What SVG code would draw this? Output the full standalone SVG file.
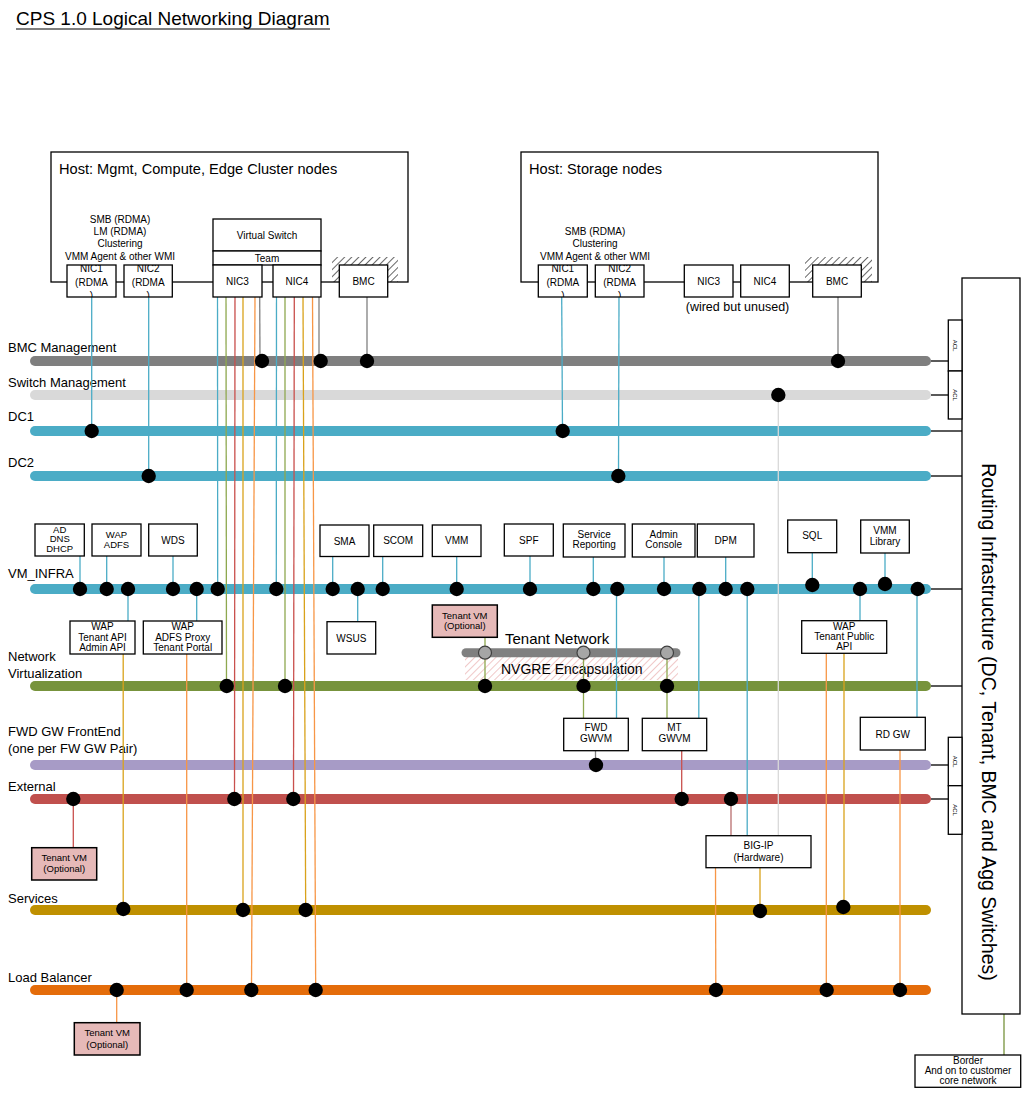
<svg xmlns="http://www.w3.org/2000/svg" width="1024" height="1093" viewBox="0 0 1024 1093">
<style>
text{font-family:"Liberation Sans",Arial,sans-serif;fill:#000}
.lbl{font-size:13px}
.bt{font-size:10px;text-anchor:middle}
.sm{font-size:9.5px;text-anchor:middle}
.frame{fill:none;stroke:#000;stroke-width:1.3}
.box{fill:#fff;stroke:#000;stroke-width:1.3}
.pink{fill:#E6B9B8;stroke:#000;stroke-width:1.5}
.bus{fill:none;stroke-width:10;stroke-linecap:round}
.c{fill:none;stroke-width:1.3}
.k{stroke:#000}
.b{stroke:#4BACC6}
.g{stroke:#8EA84F}
.r{stroke:#C9504D}
.y{stroke:#D9A21B}
.o{stroke:#F79646}
.gr{stroke:#808080}
.lg{stroke:#D9D9D9}
.dot{fill:#000}
.tc{fill:#A6A6A6;stroke:#404040;stroke-width:1.2}
</style>
<defs>
<pattern id="hk" patternUnits="userSpaceOnUse" width="5" height="5" patternTransform="rotate(45)">
<line x1="0" y1="0" x2="0" y2="5" stroke="#000" stroke-width="1.2"/>
</pattern>
<pattern id="hr" patternUnits="userSpaceOnUse" width="5" height="5" patternTransform="rotate(45)">
<line x1="0" y1="0" x2="0" y2="5" stroke="#E39A9A" stroke-width="1.1"/>
</pattern>
</defs>
<rect width="1024" height="1093" fill="#fff"/>

<g id="title">
<text x="16" y="25" style="font-size:19px">CPS 1.0 Logical Networking Diagram</text>
<line x1="16" y1="29" x2="330" y2="29" stroke="#000" stroke-width="1.2"/>
</g>

<!-- networks (buses) -->
<g id="net-bmc"><text class="lbl" x="8" y="352">BMC Management</text><line class="bus" x1="35" y1="361" x2="926" y2="361" stroke="#7F7F7F"/></g>
<g id="net-switch"><text class="lbl" x="8" y="387">Switch Management</text><line class="bus" x1="35" y1="395" x2="926" y2="395" stroke="#D9D9D9"/></g>
<g id="net-dc1"><text class="lbl" x="8" y="421">DC1</text><line class="bus" x1="35" y1="431" x2="926" y2="431" stroke="#4BACC6"/></g>
<g id="net-dc2"><text class="lbl" x="8" y="467">DC2</text><line class="bus" x1="35" y1="476" x2="926" y2="476" stroke="#4BACC6"/></g>
<g id="net-vminfra"><text class="lbl" x="8" y="578">VM_INFRA</text><line class="bus" x1="35" y1="589" x2="926" y2="589" stroke="#4BACC6"/></g>
<g id="net-nvgre">
<rect x="465" y="657" width="213" height="23" fill="url(#hr)"/>
<text x="501" y="674" style="font-size:14px">NVGRE Encapsulation</text>
</g>
<g id="net-tenant"><text x="505" y="644" style="font-size:15px">Tenant Network</text><line x1="466" y1="652.7" x2="676" y2="652.7" stroke="#808080" stroke-width="9" stroke-linecap="round"/></g>
<g id="net-nv"><text class="lbl" x="8" y="661">Network</text><text class="lbl" x="8" y="678">Virtualization</text><line class="bus" x1="35" y1="686" x2="926" y2="686" stroke="#77933C"/></g>
<g id="net-fwd"><text class="lbl" x="8" y="736">FWD GW FrontEnd</text><text class="lbl" x="8" y="753">(one per FW GW Pair)</text><line class="bus" x1="35" y1="765" x2="926" y2="765" stroke="#A79BC6"/></g>
<g id="net-external"><text class="lbl" x="8" y="791">External</text><line class="bus" x1="35" y1="799" x2="926" y2="799" stroke="#C0504D"/></g>
<g id="net-services"><text class="lbl" x="8" y="903">Services</text><line class="bus" x1="35" y1="910" x2="926" y2="910" stroke="#BF9000"/></g>
<g id="net-lb"><text class="lbl" x="8" y="982">Load Balancer</text><line class="bus" x1="35" y1="990" x2="926" y2="990" stroke="#E46C0A"/></g>

<!-- connectors -->
<g id="connectors">
<line class="c k" x1="931" y1="361" x2="948" y2="361"/>
<line class="c k" x1="931" y1="395" x2="948" y2="395"/>
<line class="c k" x1="931" y1="431" x2="962" y2="431"/>
<line class="c k" x1="931" y1="476" x2="962" y2="476"/>
<line class="c k" x1="931" y1="589" x2="962" y2="589"/>
<line class="c k" x1="931" y1="686" x2="962" y2="686"/>
<line class="c k" x1="931" y1="765" x2="948" y2="765"/>
<line class="c k" x1="931" y1="799" x2="948" y2="799"/>
<line class="c" stroke="#77933C" x1="1004" y1="1014" x2="1004" y2="1055"/>
<!-- host 1 -->
<line class="c b" x1="91.7" y1="297" x2="91.7" y2="431"/>
<line class="c b" x1="148.7" y1="297" x2="148.7" y2="476"/>
<line class="c b" x1="217.5" y1="297" x2="217.7" y2="589"/>
<line class="c g" x1="226" y1="297" x2="226.5" y2="686"/>
<line class="c r" x1="235" y1="297" x2="234.5" y2="799"/>
<line class="c y" x1="243" y1="297" x2="243" y2="910"/>
<line class="c o" x1="255" y1="297" x2="251.5" y2="990"/>
<line class="c gr" x1="259.7" y1="297" x2="260" y2="361"/>
<line class="c b" x1="276.5" y1="297" x2="276.3" y2="589"/>
<line class="c g" x1="285" y1="297" x2="285" y2="686"/>
<line class="c r" x1="294.3" y1="297" x2="293.5" y2="799"/>
<line class="c y" x1="303" y1="297" x2="305.7" y2="910"/>
<line class="c o" x1="312.5" y1="297" x2="315.7" y2="990"/>
<line class="c gr" x1="319" y1="297" x2="319" y2="361"/>
<line class="c gr" x1="367" y1="297" x2="367" y2="361"/>
<!-- host 2 -->
<line class="c b" x1="561.7" y1="297" x2="562.5" y2="431"/>
<line class="c b" x1="619" y1="297" x2="618.5" y2="476"/>
<line class="c gr" x1="838" y1="297" x2="838" y2="361"/>
<!-- VM_INFRA top boxes -->
<line class="c b" x1="80" y1="556" x2="80" y2="589"/>
<line class="c b" x1="106.7" y1="556" x2="106.7" y2="589"/>
<line class="c b" x1="173" y1="556" x2="173" y2="589"/>
<line class="c b" x1="332.7" y1="556.5" x2="332.7" y2="589"/>
<line class="c b" x1="382.7" y1="556.5" x2="382.7" y2="589"/>
<line class="c b" x1="456.7" y1="556.5" x2="456.7" y2="589"/>
<line class="c b" x1="530" y1="556" x2="530" y2="589"/>
<line class="c b" x1="593.3" y1="557" x2="593.3" y2="589"/>
<line class="c b" x1="664" y1="557" x2="664" y2="589"/>
<line class="c b" x1="725.7" y1="557" x2="725.7" y2="589"/>
<line class="c b" x1="812.3" y1="552.7" x2="812.3" y2="585"/>
<line class="c b" x1="885" y1="553" x2="885" y2="584"/>
<!-- VM_INFRA bottom boxes -->
<line class="c b" x1="128" y1="589" x2="128" y2="621"/>
<line class="c b" x1="196.7" y1="589" x2="196.7" y2="621"/>
<line class="c b" x1="357.7" y1="589" x2="357.7" y2="621.7"/>
<line class="c b" x1="860" y1="589" x2="860" y2="620.7"/>
<line class="c b" x1="616.5" y1="589" x2="616.5" y2="718.3"/>
<line class="c b" x1="698.8" y1="589" x2="698.8" y2="718.3"/>
<line class="c b" x1="747.2" y1="589" x2="747.2" y2="835.7"/>
<line class="c b" x1="917" y1="589" x2="917" y2="717.3"/>
<line class="c lg" x1="778.3" y1="395" x2="778.3" y2="835.7"/>
<!-- NV / tenant -->
<line class="c g" x1="485" y1="637.3" x2="485" y2="686"/>
<line class="c g" x1="583.5" y1="652.7" x2="583.5" y2="718.3"/>
<line class="c g" x1="667" y1="652.7" x2="667" y2="718.3"/>
<!-- services / LB / external -->
<line class="c y" x1="123.2" y1="654" x2="123.2" y2="910"/>
<line class="c y" x1="844" y1="653.3" x2="844" y2="909"/>
<line class="c y" x1="760" y1="867.7" x2="760" y2="910"/>
<line class="c o" x1="186.7" y1="654" x2="186.7" y2="990"/>
<line class="c o" x1="826.3" y1="653.3" x2="826.3" y2="990"/>
<line class="c o" x1="900" y1="750" x2="900" y2="990"/>
<line class="c o" x1="715.5" y1="867.7" x2="715.8" y2="990"/>
<line class="c o" x1="116.7" y1="990" x2="116.7" y2="1022.7"/>
<line class="c r" x1="73.3" y1="799" x2="73.3" y2="847.7"/>
<line class="c r" x1="681.7" y1="750.7" x2="681.7" y2="799"/>
<line class="c" stroke="#B86E6E" x1="731" y1="799" x2="731" y2="835.7"/>
<line class="c gr" x1="595.5" y1="750.7" x2="595.5" y2="765"/>
</g>

<!-- junction dots -->
<g id="junctions">
<circle class="dot" cx="262" cy="361" r="7.2"/><circle class="dot" cx="320.7" cy="361" r="7.2"/><circle class="dot" cx="367" cy="361" r="7.2"/><circle class="dot" cx="838" cy="361" r="7.2"/>
<circle class="dot" cx="778.3" cy="395" r="7.2"/>
<circle class="dot" cx="91.7" cy="431" r="7.2"/><circle class="dot" cx="562.7" cy="431" r="7.2"/>
<circle class="dot" cx="148.7" cy="476" r="7.2"/><circle class="dot" cx="618.3" cy="476" r="7.2"/>
<circle class="dot" cx="80" cy="589" r="7.2"/><circle class="dot" cx="106.7" cy="589" r="7.2"/><circle class="dot" cx="128" cy="589" r="7.2"/><circle class="dot" cx="173" cy="589" r="7.2"/><circle class="dot" cx="196.7" cy="589" r="7.2"/><circle class="dot" cx="217.7" cy="589" r="7.2"/><circle class="dot" cx="276.3" cy="589" r="7.2"/><circle class="dot" cx="332.7" cy="589" r="7.2"/><circle class="dot" cx="357.7" cy="589" r="7.2"/><circle class="dot" cx="382.7" cy="589" r="7.2"/><circle class="dot" cx="456.7" cy="589" r="7.2"/><circle class="dot" cx="530" cy="589" r="7.2"/><circle class="dot" cx="593.3" cy="589" r="7.2"/><circle class="dot" cx="617.3" cy="589" r="7.2"/><circle class="dot" cx="664" cy="589" r="7.2"/><circle class="dot" cx="699.3" cy="589" r="7.2"/><circle class="dot" cx="725.7" cy="589" r="7.2"/><circle class="dot" cx="747.3" cy="589" r="7.2"/><circle class="dot" cx="812.3" cy="585" r="7.2"/><circle class="dot" cx="860" cy="589" r="7.2"/><circle class="dot" cx="885" cy="584" r="7.2"/><circle class="dot" cx="917.7" cy="589" r="7.2"/>
<circle class="dot" cx="226.7" cy="686" r="7.2"/><circle class="dot" cx="285" cy="686" r="7.2"/><circle class="dot" cx="485" cy="686" r="7.2"/><circle class="dot" cx="583.5" cy="686" r="7.2"/><circle class="dot" cx="667" cy="686" r="7.2"/>
<circle class="tc" cx="485" cy="652.7" r="6.5"/><circle class="tc" cx="583.5" cy="652.7" r="6.5"/><circle class="tc" cx="667" cy="652.7" r="6.5"/>
<circle class="dot" cx="596" cy="765" r="7.2"/>
<circle class="dot" cx="73.3" cy="799" r="7.2"/><circle class="dot" cx="234.3" cy="799" r="7.2"/><circle class="dot" cx="293.3" cy="799" r="7.2"/><circle class="dot" cx="681.7" cy="799" r="7.2"/><circle class="dot" cx="731" cy="799" r="7.2"/>
<circle class="dot" cx="123.3" cy="909" r="7.2"/><circle class="dot" cx="243" cy="910" r="7.2"/><circle class="dot" cx="305.7" cy="910" r="7.2"/><circle class="dot" cx="760" cy="911" r="7.2"/><circle class="dot" cx="843.3" cy="907" r="7.2"/>
<circle class="dot" cx="116.7" cy="990" r="7.2"/><circle class="dot" cx="186.7" cy="990" r="7.2"/><circle class="dot" cx="251.3" cy="990" r="7.2"/><circle class="dot" cx="315.7" cy="990" r="7.2"/><circle class="dot" cx="716" cy="990" r="7.2"/><circle class="dot" cx="826.7" cy="990" r="7.2"/><circle class="dot" cx="900" cy="990" r="7.2"/>
</g>

<!-- Host 1 -->
<g id="host-mgmt">
<rect class="frame" x="51" y="152" width="357" height="130"/>
<text x="59" y="174" style="font-size:14.6px">Host: Mgmt, Compute, Edge Cluster nodes</text>
<text class="bt" x="120" y="223">SMB (RDMA)</text>
<text class="bt" x="120" y="235">LM (RDMA)</text>
<text class="bt" x="120" y="247">Clustering</text>
<text class="bt" x="120" y="259.5">VMM Agent &amp; other WMI</text>
<rect x="332" y="257" width="66" height="25" fill="url(#hk)"/>
</g>
<g id="h1-nic1"><rect class="box" x="67" y="265" width="49" height="32"/><svg x="67" y="265" width="49" height="32"><text class="bt" x="24.5" y="7">NIC1</text><text class="bt" x="24.5" y="20.5">(RDMA</text><text class="bt" x="24.5" y="34">)</text></svg></g>
<g id="h1-nic2"><rect class="box" x="124" y="265" width="48.3" height="32"/><svg x="124" y="265" width="48.3" height="32"><text class="bt" x="24.2" y="7">NIC2</text><text class="bt" x="24.2" y="20.5">(RDMA</text><text class="bt" x="24.2" y="34">)</text></svg></g>
<g id="h1-vswitch"><rect class="box" x="213" y="219" width="108" height="32"/><text class="bt" x="267" y="239">Virtual Switch</text></g>
<g id="h1-team"><rect class="box" x="213" y="251" width="108" height="14"/><text class="bt" x="267" y="262">Team</text></g>
<g id="h1-nic3"><rect class="box" x="213" y="265" width="49" height="32"/><text class="bt" x="237.5" y="285">NIC3</text></g>
<g id="h1-nic4"><rect class="box" x="273" y="265" width="48" height="32"/><text class="bt" x="297" y="285">NIC4</text></g>
<g id="h1-bmc"><rect class="box" x="339.3" y="265" width="48.4" height="32"/><text class="bt" x="363.5" y="285">BMC</text></g>

<!-- Host 2 -->
<g id="host-storage">
<rect class="frame" x="521" y="152" width="357" height="130"/>
<text x="529" y="174" style="font-size:14.6px">Host: Storage nodes</text>
<text class="bt" x="595" y="235">SMB (RDMA)</text>
<text class="bt" x="595" y="247">Clustering</text>
<text class="bt" x="595" y="259.5">VMM Agent &amp; other WMI</text>
<rect x="805" y="257" width="67" height="25" fill="url(#hk)"/>
<text x="737.5" y="311" style="font-size:12.5px;text-anchor:middle">(wired but unused)</text>
</g>
<g id="h2-nic1"><rect class="box" x="538.3" y="265" width="49" height="32"/><svg x="538.3" y="265" width="49" height="32"><text class="bt" x="24.5" y="7">NIC1</text><text class="bt" x="24.5" y="20.5">(RDMA</text><text class="bt" x="24.5" y="34">)</text></svg></g>
<g id="h2-nic2"><rect class="box" x="595.3" y="265" width="48.7" height="32"/><svg x="595.3" y="265" width="48.7" height="32"><text class="bt" x="24.3" y="7">NIC2</text><text class="bt" x="24.3" y="20.5">(RDMA</text><text class="bt" x="24.3" y="34">)</text></svg></g>
<g id="h2-nic3"><rect class="box" x="684.3" y="265" width="48.7" height="32"/><text class="bt" x="708.7" y="285">NIC3</text></g>
<g id="h2-nic4"><rect class="box" x="740.7" y="265" width="48.6" height="32"/><text class="bt" x="765" y="285">NIC4</text></g>
<g id="h2-bmc"><rect class="box" x="812.7" y="265" width="48.6" height="32"/><text class="bt" x="837" y="285">BMC</text></g>

<!-- VM_INFRA services -->
<g id="ad"><rect class="box" x="35" y="524" width="49.3" height="32"/><text class="sm" x="59.7" y="532.5">AD</text><text class="sm" x="59.7" y="542">DNS</text><text class="sm" x="59.7" y="551.5">DHCP</text></g>
<g id="wap-adfs"><rect class="box" x="92" y="524" width="49" height="32"/><text class="sm" x="116.5" y="537.5">WAP</text><text class="sm" x="116.5" y="548">ADFS</text></g>
<g id="wds"><rect class="box" x="148.7" y="524" width="48.6" height="32"/><text class="bt" x="173" y="543.5">WDS</text></g>
<g id="sma"><rect class="box" x="320" y="525" width="49" height="31.5"/><text class="bt" x="344.5" y="545">SMA</text></g>
<g id="scom"><rect class="box" x="373.7" y="525" width="49" height="31.5"/><text class="bt" x="398.2" y="544">SCOM</text></g>
<g id="vmm"><rect class="box" x="432.3" y="525" width="48.7" height="31.5"/><text class="bt" x="456.7" y="544">VMM</text></g>
<g id="spf"><rect class="box" x="504.3" y="524" width="49" height="32"/><text class="bt" x="528.8" y="543.5">SPF</text></g>
<g id="svc-reporting"><rect class="box" x="563.3" y="524" width="61.7" height="33"/><text class="bt" x="594.2" y="537.5">Service</text><text class="bt" x="594.2" y="548">Reporting</text></g>
<g id="admin-console"><rect class="box" x="632.3" y="524" width="62.7" height="33"/><text class="bt" x="663.7" y="537.5">Admin</text><text class="bt" x="663.7" y="548">Console</text></g>
<g id="dpm"><rect class="box" x="697.3" y="524" width="56.7" height="33"/><text class="bt" x="725.7" y="544">DPM</text></g>
<g id="sql"><rect class="box" x="787.7" y="520" width="49" height="32.7"/><text class="bt" x="812.2" y="539">SQL</text></g>
<g id="vmm-library"><rect class="box" x="860.7" y="520" width="48.6" height="33"/><text class="bt" x="885" y="533.5">VMM</text><text class="bt" x="885" y="544.5">Library</text></g>
<g id="wap-tenant-api"><rect class="box" x="70" y="621" width="65" height="33"/><text class="bt" x="102.5" y="630">WAP</text><text class="bt" x="102.5" y="640.5">Tenant API</text><text class="bt" x="102.5" y="650.5">Admin API</text></g>
<g id="wap-adfs-proxy"><rect class="box" x="143.3" y="621" width="78.7" height="33"/><text class="bt" x="182.7" y="630">WAP</text><text class="bt" x="182.7" y="640.5">ADFS Proxy</text><text class="bt" x="182.7" y="650.5">Tenant Portal</text></g>
<g id="wsus"><rect class="box" x="327" y="621.7" width="48.7" height="32.3"/><text class="bt" x="351.3" y="641.5">WSUS</text></g>
<g id="tenant-vm-nv"><rect class="pink" x="432.3" y="605" width="65" height="32.3"/><text class="sm" x="464.8" y="618.5">Tenant VM</text><text class="sm" x="464.8" y="629">(Optional)</text></g>
<g id="wap-public-api"><rect class="box" x="801.7" y="620.7" width="85" height="32.6"/><text class="bt" x="844.2" y="629.5">WAP</text><text class="bt" x="844.2" y="639.5">Tenant Public</text><text class="bt" x="844.2" y="649.5">API</text></g>

<!-- gateways -->
<g id="fwd-gwvm"><rect class="box" x="563.7" y="718.3" width="64.6" height="32.4"/><text class="bt" x="596" y="731">FWD</text><text class="bt" x="596" y="742">GWVM</text></g>
<g id="mt-gwvm"><rect class="box" x="642.3" y="718.3" width="64.4" height="32.4"/><text class="bt" x="674.5" y="731">MT</text><text class="bt" x="674.5" y="742">GWVM</text></g>
<g id="rd-gw"><rect class="box" x="860.3" y="717.3" width="65" height="32.7"/><text class="bt" x="892.8" y="737.5">RD GW</text></g>
<g id="big-ip"><rect class="box" x="706" y="835.7" width="105" height="32"/><text class="bt" x="758.5" y="849">BIG-IP</text><text class="bt" x="758.5" y="861">(Hardware)</text></g>
<g id="tenant-vm-ext"><rect class="pink" x="31.7" y="847.7" width="65" height="32.3"/><text class="sm" x="64.2" y="860.5">Tenant VM</text><text class="sm" x="64.2" y="872">(Optional)</text></g>
<g id="tenant-vm-lb"><rect class="pink" x="74.3" y="1022.7" width="65.7" height="32.3"/><text class="sm" x="107.2" y="1036">Tenant VM</text><text class="sm" x="107.2" y="1047.5">(Optional)</text></g>

<!-- routing -->
<g id="routing">
<rect class="box" x="962" y="278" width="58" height="736"/>
<text transform="translate(982,722) rotate(90)" style="font-size:19.5px;text-anchor:middle">Routing Infrastructure (DC, Tenant, BMC and Agg Switches)</text>
</g>
<g id="acl-bmc"><rect class="box" x="948.3" y="320" width="13.7" height="51"/><text transform="translate(953.2,345.5) rotate(90)" style="font-size:6px;text-anchor:middle">ACL</text></g>
<g id="acl-switch"><rect class="box" x="948.3" y="371" width="13.7" height="48"/><text transform="translate(953.2,395) rotate(90)" style="font-size:6px;text-anchor:middle">ACL</text></g>
<g id="acl-fwd"><rect class="box" x="948.3" y="737.3" width="13.7" height="48.4"/><text transform="translate(953.2,761.5) rotate(90)" style="font-size:6px;text-anchor:middle">ACL</text></g>
<g id="acl-ext"><rect class="box" x="948.3" y="785.7" width="13.7" height="48.6"/><text transform="translate(953.2,810) rotate(90)" style="font-size:6px;text-anchor:middle">ACL</text></g>
<g id="border"><rect class="box" x="915" y="1055" width="105.7" height="32.3"/><text class="bt" x="968" y="1063.5">Border</text><text class="bt" x="968" y="1073.5">And on to customer</text><text class="bt" x="968" y="1083.5">core network</text></g>
</svg>
